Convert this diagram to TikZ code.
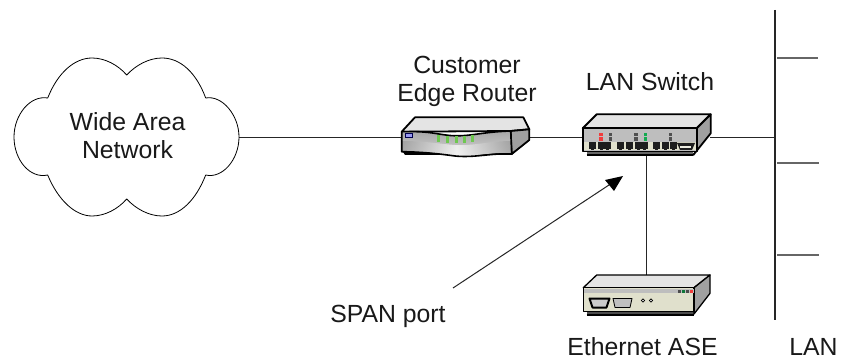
\documentclass[tikz,border=0pt]{standalone}
\usepackage{fontspec}
\setmainfont{Liberation Sans}
\definecolor{topgray}{RGB}{228,228,228}
\definecolor{sidegray}{RGB}{160,160,160}
\definecolor{frontgray}{RGB}{190,190,190}
\definecolor{cream}{RGB}{224,224,204}
\definecolor{portblack}{RGB}{30,30,30}
\definecolor{ledred}{RGB}{240,60,60}
\definecolor{ledgreen}{RGB}{20,170,80}
\definecolor{ledgray}{RGB}{80,80,80}
\definecolor{routergreen}{RGB}{110,200,80}
\tikzset{
  x=1pt,y=-1pt,
  lbl/.style={font=\fontsize{24.8}{28}\selectfont,align=center,inner sep=0,text=black!90},
  lblone/.style={font=\fontsize{24.8}{28}\selectfont,inner sep=0,anchor=base,text=black!90},
  anchorbox/.style={inner sep=0,minimum width=#1},
  wire/.style={draw=black!85,line width=0.9pt},
  stub/.style={draw=black!60,line width=1.1pt},
  outline/.style={draw=black,line width=1.8pt,line join=round},
  thinout/.style={draw=black,line width=0.9pt,line join=round},
}
\begin{document}
\begin{tikzpicture}
\useasboundingbox (0,0) rectangle (842,358);
\fill[white] (0,0) rectangle (842,358);

% anchor nodes
\node[anchorbox=225pt,minimum height=140pt] (wan) at (126.5,137) {};
\node[anchorbox=128pt,minimum height=38pt] (router) at (465.5,137) {};
\node[anchorbox=127pt,minimum height=36pt] (switch) at (646.5,137) {};
\node[anchorbox=127pt,minimum height=40pt] (ase) at (646.5,295) {};
\coordinate (bustop) at (775,10);
\coordinate (busbot) at (775,320);
\coordinate (tap) at (774,137);
\coordinate (s1a) at (777,58); \coordinate (s1b) at (818,58);
\coordinate (s2a) at (777,163); \coordinate (s2b) at (819,163);
\coordinate (s3a) at (777,255); \coordinate (s3b) at (819,255);
\coordinate (spanfrom) at (453,288);
\coordinate (spanto) at (612,183);

% connectors
\draw[wire] (wan.east) -- (router.west);
\draw[wire] (router.east) -- (switch.west);
\draw[wire] (switch.east) -- (tap);
\draw[wire] (switch.south) -- (ase.north);
\draw[wire,line width=1.1pt] (bustop) -- (busbot);
\draw[stub] (s1a) -- (s1b);
\draw[stub] (s2a) -- (s2b);
\draw[stub] (s3a) -- (s3b);
\draw[wire,line width=1pt] (spanfrom) -- (spanto);
\fill[black] (623,176) -- (605,180) -- (614,191) -- cycle;

% cloud
\draw[thinout,fill=white,line width=0.8pt]
  (47.7,98) .. controls (58,72) and (75,58) .. (92,58)
  .. controls (105,58) and (118,65) .. (126.7,75)
  .. controls (136,65) and (149,58) .. (162,58)
  .. controls (180,58) and (196,72) .. (205.7,98)
  .. controls (222,95) and (239,115) .. (239,137)
  .. controls (239,160) and (222,179) .. (205.7,175)
  .. controls (196,200) and (180,216) .. (162,216)
  .. controls (149,216) and (136,209) .. (126.7,199)
  .. controls (118,209) and (105,216) .. (92,216)
  .. controls (75,216) and (58,200) .. (47.7,175)
  .. controls (30,179) and (14,160) .. (14,137)
  .. controls (14,115) and (30,95) .. (47.7,98) -- cycle;

% router
\fill[black] (401.7,150) -- (405,155) -- (511.7,155) -- (529.3,140) -- (511,140) -- cycle;
\draw[outline,fill=topgray] (401.7,131.7) -- (415,117.3) -- (523.3,117.3) -- (529.3,129.3) -- (510.7,131) -- cycle;
\draw[outline,fill=sidegray] (510.7,131) -- (529.3,129.3) -- (529.3,140) -- (511.7,154) -- cycle;
\shade[top color=black!35,bottom color=black!15]
  (401.7,131.7) .. controls (430,131) and (435,134) .. (450,135.5)
  .. controls (470,137) and (480,132) .. (510.7,131) -- (511.7,153)
  .. controls (490,152) and (475,157) .. (455,155.5)
  .. controls (440,154) and (425,151) .. (401.7,151.7) -- cycle;
\shade[left color=black!40,right color=black!40,middle color=white,opacity=0.7]
  (402,141) .. controls (425,141) and (440,144) .. (455,145)
  .. controls (475,146) and (490,141) .. (511,141) -- (511,153)
  .. controls (490,152) and (475,157) .. (455,155.5)
  .. controls (440,154) and (425,151) .. (402,151.5) -- cycle;
\draw[outline,line width=1.6pt]
  (401.7,131.7) .. controls (430,131) and (435,134) .. (450,135.5)
  .. controls (470,137) and (480,132) .. (510.7,131) -- (511.7,154)
  .. controls (490,153) and (475,158) .. (455,156)
  .. controls (440,154) and (425,152) .. (401.7,151.7) -- cycle;
\fill[black!70!blue] (405,133.5) rectangle (413,138);
\fill[black!15!blue!40] (406,134.5) rectangle (412,137);
\foreach \lx/\ly in {437/135,446/136,455/136,463/136,471/135}{
  \fill[routergreen] (\lx,\ly) rectangle ++(3,7);
}

% switch
\fill[black!60] (586.7,150) rectangle (693.3,155);
\draw[outline] (586.7,155) -- (693.3,155);
\draw[outline,fill=topgray] (582.7,128.3) -- (596.7,114.3) -- (710.7,114.3) -- (696.7,128.3) -- cycle;
\draw[outline,fill=sidegray] (696.7,128.3) -- (710.7,114.3) -- (710.7,133.3) -- (693.3,155) -- (696.7,150) -- cycle;
\draw[outline,fill=frontgray] (582.7,128.3) rectangle (696.7,151.5);
\fill[cream] (584,142) rectangle (695.5,150.5);
\foreach \px in {589,598,604,617,626,635,641,653,662,670}{
  \fill[portblack] (\px,142.5) rectangle ++(6.5,6.5);
  \fill[portblack] (\px+1.5,149) rectangle ++(3.5,1.5);
}
\fill[portblack] (677,143) -- (695,143) -- (692,150) -- (680,150) -- cycle;
\fill[cream!60!white] (680,146) rectangle (691,148.5);
\fill[ledred] (599,133) rectangle (603,136.5);
\fill[ledred] (599,137.5) rectangle (603,141);
\fill[ledgray] (609,133) rectangle (612,136.5);
\fill[ledgray] (609,137.5) rectangle (612,141);
\fill[ledgray] (634,133) rectangle (638,136.5);
\fill[ledgray] (634,137.5) rectangle (638,141);
\fill[ledgreen] (644,133) rectangle (647,136.5);
\fill[ledgreen] (644,137.5) rectangle (647,141);
\fill[ledgray] (669,133) rectangle (672,136.5);
\fill[ledgray] (669,137.5) rectangle (672,141);

% ase
\fill[black!70] (586.7,311) rectangle (694,315);
\draw[outline,line width=1.3pt] (586.7,315) -- (694,315);
\draw[outline,line width=1.3pt,fill=topgray] (583.3,287.7) -- (596.7,275) -- (710,275) -- (694,287.7) -- cycle;
\draw[outline,line width=1.3pt,fill=sidegray] (694,287.7) -- (710,275) -- (710,293.3) -- (694,314) -- cycle;
\draw[outline,line width=1.3pt,fill=cream] (583.3,287.7) rectangle (694,311.5);
\fill[frontgray] (584,288.5) rectangle (693.5,293);
\draw[black,line width=2pt,fill=white!80!black,line join=round] (589.5,298.5) -- (609.5,298.5) -- (606.5,307.5) -- (592.5,307.5) -- cycle;
\draw[black,line width=0.8pt,fill=black!25,line join=round] (613,298.5) -- (632,298.5) -- (630,307.5) -- (615,307.5) -- cycle;
\draw[black,line width=0.8pt,fill=white] (643,300.5) circle (1.6);
\draw[black,line width=0.8pt,fill=white] (651,300.5) circle (1.6);
\fill[black!70] (678,289.5) rectangle (681,293);
\fill[ledgreen!70!black] (682,289.5) rectangle (685,293);
\fill[black!70] (686,289.5) rectangle (689,293);
\fill[ledred] (690,289.5) rectangle (693,293);

% labels
\node[lbl] (twan) at (127.5,136) {Wide Area\\Network};
\node[lbl] (trouter) at (467,81) {Customer\\Edge Router};
\node[lblone] (tswitch) at (650,91) {LAN Switch};
\node[lblone] (tspan) at (388,322) {SPAN port};
\node[lblone] (tase) at (642.5,355) {Ethernet ASE};
\node[lblone] (tlan) at (813.5,355) {LAN};
\end{tikzpicture}
\end{document}
